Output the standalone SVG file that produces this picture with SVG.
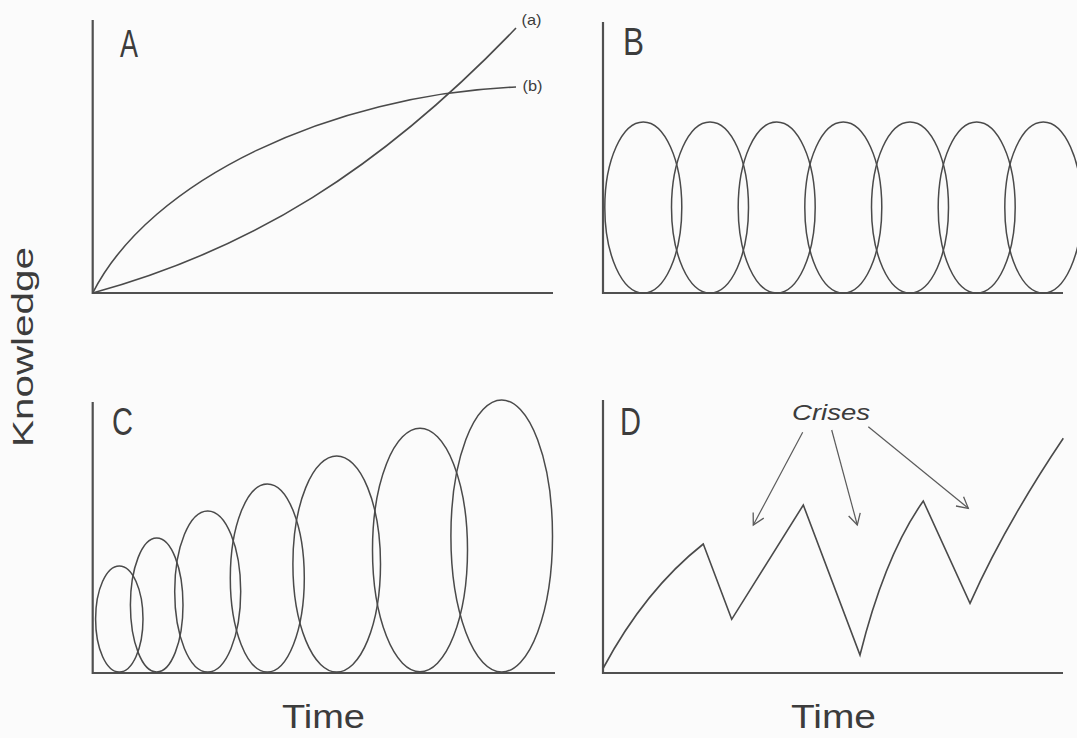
<svg xmlns="http://www.w3.org/2000/svg" width="1077" height="738" viewBox="0 0 1077 738">
<style>
.ln{fill:none;stroke:#4a4a4a;stroke-width:1.6;stroke-linejoin:miter}
.ax{fill:none;stroke:#505050;stroke-width:2.2}
.el{fill:none;stroke:#4a4a4a;stroke-width:1.5}
.arw{fill:none;stroke:#5a5a5a;stroke-width:1.2}
.t{font-family:"Liberation Sans",Arial,sans-serif;fill:#3c3c3c}
</style>
<defs>
<marker id="ah" markerUnits="userSpaceOnUse" markerWidth="24" markerHeight="24" viewBox="-14 -12 24 24" refX="0" refY="0" orient="auto">
<path d="M-11,-6 L0,0 L-11,6" fill="none" stroke="#5a5a5a" stroke-width="1.3"/>
</marker>
</defs>
<rect width="1077" height="738" fill="#fbfbfb"/>
<text class="t" font-size="30" transform="translate(33,447) rotate(-90)" textLength="200" lengthAdjust="spacingAndGlyphs">Knowledge</text>
<text class="t" font-size="32.6" x="282" y="728" textLength="83" lengthAdjust="spacingAndGlyphs">Time</text>
<text class="t" font-size="32.6" x="791" y="728" textLength="85" lengthAdjust="spacingAndGlyphs">Time</text>
<g id="panelA">
<path class="ax" d="M92.7,20 V293 H553"/>
<text class="t" font-size="39" x="120" y="56.7" textLength="18" lengthAdjust="spacingAndGlyphs">A</text>
<path id="curveA" class="ln" d="M92.7,293 C250,250 380,170 516,28"/>
<path id="curveB" class="ln" d="M92.7,293 C150,180 330,95 516,87"/>
<text class="t" font-size="15" x="521.5" y="25" textLength="20" lengthAdjust="spacingAndGlyphs">(a)</text>
<text class="t" font-size="15" x="522.5" y="91" textLength="20" lengthAdjust="spacingAndGlyphs">(b)</text>
</g>
<g id="panelB">
<path class="ax" d="M603,22 V293 H1063"/>
<text class="t" font-size="38" x="623" y="55" textLength="21" lengthAdjust="spacingAndGlyphs">B</text>
<ellipse class="el" cx="643.3" cy="207.5" rx="38.5" ry="85.5"/>
<ellipse class="el" cx="710" cy="207.5" rx="38.5" ry="85.5"/>
<ellipse class="el" cx="776.7" cy="207.5" rx="38.5" ry="85.5"/>
<ellipse class="el" cx="843.3" cy="207.5" rx="38.5" ry="85.5"/>
<ellipse class="el" cx="910" cy="207.5" rx="38.5" ry="85.5"/>
<ellipse class="el" cx="976.7" cy="207.5" rx="38.5" ry="85.5"/>
<ellipse class="el" cx="1043.3" cy="207.5" rx="38.5" ry="85.5"/>
</g>
<g id="panelC">
<path class="ax" d="M92.7,402 V673 H555"/>
<text class="t" font-size="38" x="112" y="435" textLength="21" lengthAdjust="spacingAndGlyphs">C</text>
<ellipse class="el" cx="119.3" cy="619" rx="23.7" ry="53"/>
<ellipse class="el" cx="156.7" cy="605" rx="26.3" ry="67"/>
<ellipse class="el" cx="207.7" cy="591.5" rx="33" ry="80.5"/>
<ellipse class="el" cx="267.3" cy="578" rx="37" ry="94"/>
<ellipse class="el" cx="336.7" cy="564" rx="43.8" ry="108"/>
<ellipse class="el" cx="420" cy="550" rx="47.5" ry="121.7"/>
<ellipse class="el" cx="501.7" cy="536" rx="50.8" ry="136"/>
</g>
<g id="panelD">
<path class="ax" d="M603,400 V673 H1063"/>
<text class="t" font-size="38" x="620" y="435" textLength="21" lengthAdjust="spacingAndGlyphs">D</text>
<path class="ln" d="M603.3,668 Q645,590 703.3,544 L731.7,619.3 L803.3,505 L860,655 Q885,555 923.3,501 L970,603.3 Q1005,525 1063.3,438.3"/>
<text id="crises" class="t" font-size="22" font-style="italic" x="792" y="420" textLength="78" lengthAdjust="spacingAndGlyphs">Crises</text>
</g>
<g id="connectors">
<line class="arw" x1="802.7" y1="432.3" x2="753.3" y2="525" marker-end="url(#ah)"/>
<line class="arw" x1="831.7" y1="430" x2="857.3" y2="525" marker-end="url(#ah)"/>
<line class="arw" x1="868.3" y1="426.7" x2="968.3" y2="508.3" marker-end="url(#ah)"/>
</g>
</svg>
